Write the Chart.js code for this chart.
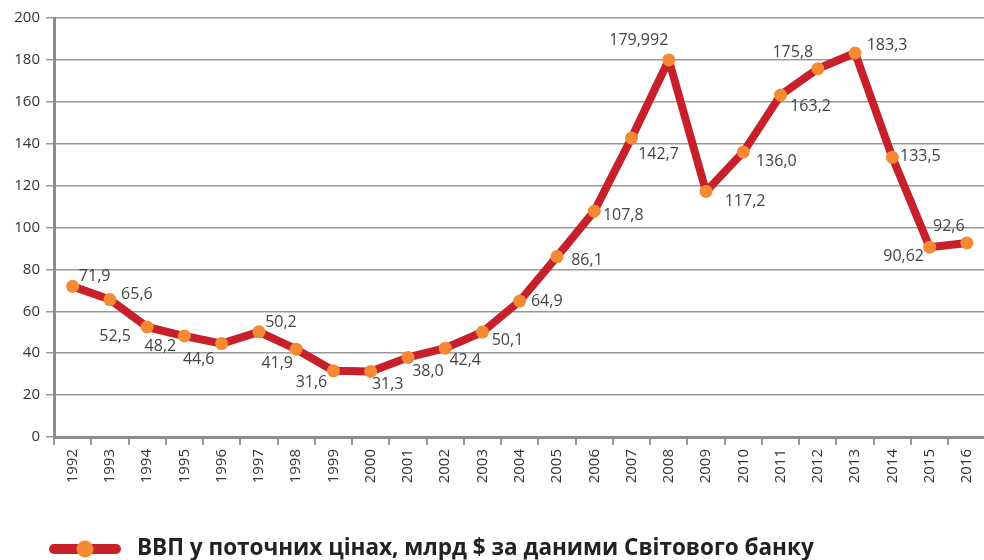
<!DOCTYPE html>
<html>
<head>
<meta charset="utf-8">
<script src="https://cdn.jsdelivr.net/npm/chart.js@4/dist/chart.umd.min.js"></script>
<style>
  html, body { margin: 0; padding: 0; background: #fff; overflow: hidden; }
  #wrap { width: 984px; height: 560px; overflow: hidden; }
</style>
</head>
<body>
<div id="wrap"><canvas id="myChart" width="992" height="560"></canvas></div>
<script>
const years = ['1992', '1993', '1994', '1995', '1996', '1997', '1998', '1999', '2000', '2001', '2002', '2003', '2004',
  '2005', '2006', '2007', '2008', '2009', '2010', '2011', '2012', '2013', '2014', '2015', '2016'];
const gdp = [71.9, 65.6, 52.5, 48.2, 44.6, 50.2, 41.9, 31.6, 31.3, 38.0, 42.4, 50.1, 64.9,
  86.1, 107.8, 142.7, 179.992, 117.2, 136.0, 163.2, 175.8, 183.3, 133.5, 90.62, 92.6];
const gdpLabels = ['71,9', '65,6', '52,5', '48,2', '44,6', '50,2', '41,9', '31,6', '31,3', '38,0', '42,4', '50,1', '64,9',
  '86,1', '107,8', '142,7', '179,992', '117,2', '136,0', '163,2', '175,8', '183,3', '133,5', '90,62', '92,6'];
const yTicks = [0, 20, 40, 60, 80, 100, 120, 140, 160, 180, 200];
const seriesName = 'ВВП у поточних цінах, млрд $ за даними Світового банку';

// label offsets from the point (px)
const labelDx = [22, 27, -32, -24, -23, 22, -19, -22, 17, 20, 20, 25, 27, 30, 29, 27, -30, 39, 33, 30, -25, 32, 28, -26, -18];
const labelDy = [-10, -5, 9, 10, 16, -9, 14, 12, 13, 14, 12, 8, 0, 4, 4, 16, -19, 10, 9, 11, -16, -8, -1, 9, -17];

const RED = '#c8202a';
const ORANGE = '#f68a33';

const dataLabels = {
  id: 'dataLabels',
  afterDatasetsDraw(chart) {
    const ctx = chart.ctx;
    const meta = chart.getDatasetMeta(0);
    ctx.save();
    ctx.font = '16px "Open Sans"';
    ctx.fillStyle = '#444';
    ctx.textAlign = 'center';
    ctx.textBaseline = 'middle';
    meta.data.forEach((pt, i) => {
      ctx.fillText(gdpLabels[i], pt.x + labelDx[i], pt.y + labelDy[i]);
    });
    ctx.restore();
  }
};

const bottomLegend = {
  id: 'bottomLegend',
  afterDraw(chart) {
    const ctx = chart.ctx;
    const y = 549;
    ctx.save();
    ctx.strokeStyle = RED;
    ctx.lineWidth = 10;
    ctx.lineCap = 'round';
    ctx.beginPath();
    ctx.moveTo(54, y);
    ctx.lineTo(116, y);
    ctx.stroke();
    ctx.fillStyle = ORANGE;
    ctx.beginPath();
    ctx.arc(85, y, 8.5, 0, Math.PI * 2);
    ctx.fill();
    ctx.font = 'bold 22.5px "Open Sans"';
    ctx.fillStyle = '#222';
    ctx.textBaseline = 'middle';
    ctx.fillText(seriesName, 137, y);
    ctx.restore();
  }
};

new Chart(document.getElementById('myChart').getContext('2d'), {
  type: 'line',
  data: {
    labels: years,
    datasets: [{
      label: seriesName,
      data: gdp,
      borderColor: RED,
      borderWidth: 8,
      borderJoinStyle: 'round',
      tension: 0,
      pointRadius: 6.5,
      pointHoverRadius: 6.5,
      pointBackgroundColor: ORANGE,
      pointBorderWidth: 0
    }]
  },
  options: {
    responsive: false,
    animation: false,
    layout: { padding: { top: 18, right: 0, bottom: 63, left: 0 } },
    plugins: {
      legend: { display: false },
      tooltip: { enabled: false }
    },
    scales: {
      y: {
        min: 0,
        max: 200,
        afterBuildTicks(scale) { scale.ticks = yTicks.map(v => ({ value: v })); },
        afterFit(scale) { scale.width = 54; },
        border: { color: '#8c8c8c', width: 3 },
        grid: { color: '#999', lineWidth: 1.5, tickLength: 8, tickColor: '#999' },
        ticks: { color: '#333', font: { family: 'Open Sans', size: 15 }, padding: 6 }
      },
      x: {
        offset: true,
        afterFit(scale) { scale.height = 60; },
        border: { color: '#8c8c8c', width: 3 },
        grid: { drawOnChartArea: false, offset: true, tickLength: 8, tickColor: '#999', lineWidth: 2 },
        ticks: { color: '#333', font: { family: 'Open Sans', size: 15 }, maxRotation: 90, minRotation: 90, padding: 4 }
      }
    }
  },
  plugins: [dataLabels, bottomLegend]
});
</script>
</body>
</html>
